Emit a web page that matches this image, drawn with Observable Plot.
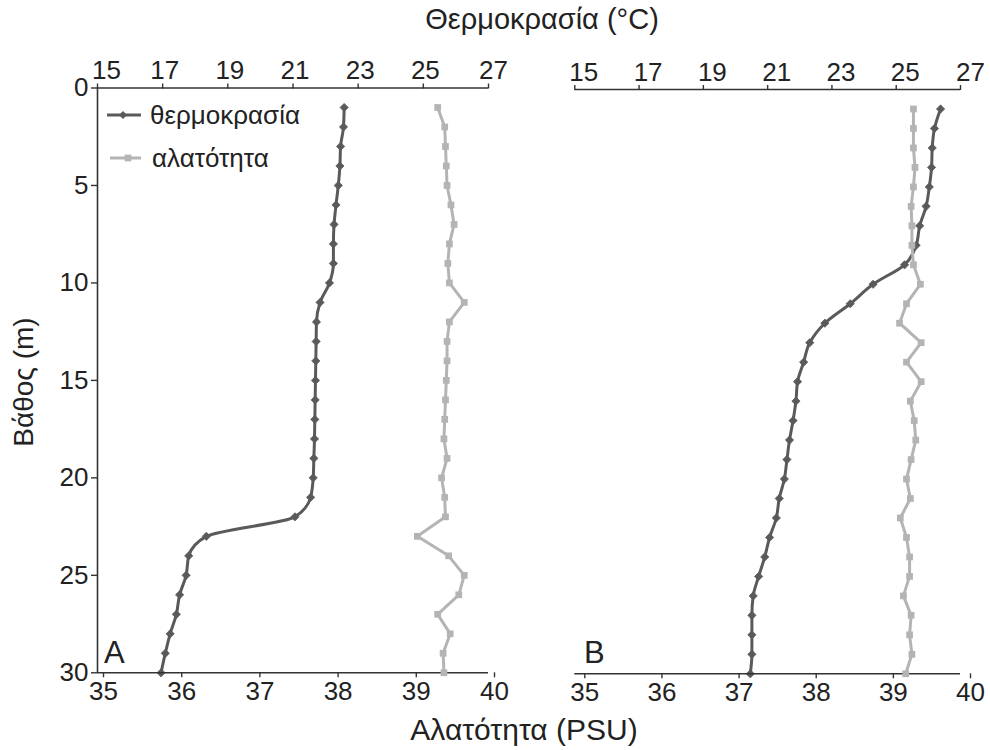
<!DOCTYPE html>
<html>
<head>
<meta charset="utf-8">
<script src="https://cdn.jsdelivr.net/npm/d3@7"></script>
<script src="https://cdn.jsdelivr.net/npm/@observablehq/plot@0.6"></script>
<style>
  html, body { margin: 0; padding: 0; background: #fff; }
  #chart { position: relative; width: 990px; height: 750px; font-family: "Liberation Sans", Arial, sans-serif; color: #222; }
  #chart > svg, #chart > .layer { position: absolute; left: 0; top: 0; }
  .lbl { position: absolute; white-space: nowrap; font-family: "Liberation Sans", Arial, sans-serif; color: #222; }
</style>
</head>
<body>
<div id="chart"></div>
<script>
// ---- data ----
const depth = [1,2,3,4,5,6,7,8,9,10,11,12,13,14,15,16,17,18,19,20,21,22,23,24,25,26,27,28,29,30];
const tempA = [22.57,22.55,22.46,22.44,22.39,22.32,22.26,22.24,22.24,22.12,21.83,21.72,21.71,21.70,21.69,21.68,21.67,21.66,21.64,21.62,21.54,21.06,18.34,17.80,17.72,17.52,17.42,17.23,17.08,16.95];
const salA  = [39.35,39.44,39.45,39.46,39.47,39.52,39.56,39.50,39.48,39.50,39.69,39.50,39.47,39.47,39.46,39.45,39.44,39.43,39.47,39.40,39.44,39.45,39.09,39.49,39.69,39.62,39.35,39.51,39.42,39.43];
const tempB = [26.38,26.19,26.12,26.10,26.03,25.93,25.73,25.62,25.26,24.28,23.57,22.78,22.31,22.12,21.93,21.88,21.79,21.68,21.60,21.52,21.36,21.27,21.06,20.91,20.72,20.55,20.51,20.51,20.51,20.46];
const salB  = [39.39,39.39,39.39,39.41,39.39,39.36,39.37,39.37,39.39,39.48,39.30,39.21,39.49,39.30,39.49,39.35,39.40,39.42,39.36,39.30,39.35,39.22,39.30,39.34,39.34,39.26,39.36,39.34,39.37,39.29];
const tempTicks = [15,17,19,21,23,25,27];
const salTicks = [35,36,37,38,39,40];
const depthTicks = [0,5,10,15,20,25,30];
const tempDomain = [15,27];
const salDomain = [35,40];
const depthDomain = [0,30];
const labels = {title: "Θερμοκρασία (°C)", xLabel: "Αλατότητα (PSU)", yLabel: "Βάθος (m)", temp: "θερμοκρασία", sal: "αλατότητα", panelA: "A", panelB: "B"};

const TEMP_COLOR = "#5a5a5a";
const SAL_COLOR = "#b4b4b4";
const AXIS_COLOR = "#333";
const FONT = "Liberation Sans, Arial, sans-serif";

const rowsA = depth.map((d,i) => ({depth: d, temp: tempA[i], sal: salA[i]}));
const rowsB = depth.map((d,i) => ({depth: d, temp: tempB[i], sal: salB[i]}));

const W = 990, H = 750;
const chart = document.getElementById("chart");

function panel(rows, m, opts) {
  const common = {
    width: W, height: H,
    marginLeft: m.left, marginRight: W - m.right, marginTop: m.top, marginBottom: H - m.bottom,
    style: {background: "transparent", fontFamily: FONT, color: "#222", overflow: "visible"},
    y: {domain: depthDomain, reverse: true, axis: null, label: null}
  };
  const tMarks = [
    Plot.ruleY([0], {stroke: AXIS_COLOR, strokeWidth: 1.6}),
    Plot.axisX(tempTicks, {anchor: "top", label: null, tickSize: 5, tickFormat: () => "", stroke: AXIS_COLOR, strokeWidth: 1.4}),
    Plot.axisX(tempTicks.slice(1, -1), {anchor: "top", label: null, tickSize: 0, tickPadding: opts.topPad, fontSize: 26, dx: opts.topDx, fill: "#222"}),
    Plot.axisX([tempTicks[0]], {anchor: "top", label: null, tickSize: 0, tickPadding: opts.topPad, fontSize: 26, dx: opts.topDxFirst, fill: "#222"}),
    Plot.axisX([tempTicks[tempTicks.length - 1]], {anchor: "top", label: null, tickSize: 0, tickPadding: opts.topPad, fontSize: 26, dx: opts.topDxLast, fill: "#222"}),
    Plot.line(rows, {x: "temp", y: "depth", stroke: TEMP_COLOR, strokeWidth: 3, curve: "monotone-y"}),
    Plot.dot(rows, {x: "temp", y: "depth", symbol: "diamond2", r: 3.7, fill: TEMP_COLOR, stroke: TEMP_COLOR, strokeWidth: 0.8})
  ];
  if (opts.yAxis) {
    tMarks.unshift(
      Plot.ruleX([tempDomain[0]], {stroke: AXIS_COLOR, strokeWidth: 1.6}),
      Plot.axisY(depthTicks, {anchor: "left", label: null, tickSize: 6, tickPadding: 3, fontSize: 26, stroke: AXIS_COLOR, strokeWidth: 1.4, fill: "#222"})
    );
  }
  const tPlot = Plot.plot({...common, x: {domain: tempDomain, axis: null, label: null}, marks: tMarks});
  const sPlot = Plot.plot({...common, x: {domain: salDomain, axis: null, label: null}, marks: [
    Plot.ruleY([30], {stroke: AXIS_COLOR, strokeWidth: 1.6}),
    Plot.axisX(salTicks, {anchor: "bottom", label: null, tickSize: 5, tickPadding: opts.botPad, fontSize: 26, dx: opts.botDx, stroke: AXIS_COLOR, strokeWidth: 1.4, fill: "#222"}),
    Plot.line(rows, {x: "sal", y: "depth", stroke: SAL_COLOR, strokeWidth: 3}),
    Plot.dot(rows, {x: "sal", y: "depth", symbol: "square", r: 3.8, fill: SAL_COLOR})
  ]});
  chart.appendChild(tPlot);
  chart.appendChild(sPlot);
}

panel(rowsA, {left: 97, right: 488, top: 87.5, bottom: 672.3},
  {yAxis: true, topPad: 9, topDx: 2, topDxFirst: 9, topDxLast: 5, botPad: 4, botDx: 6});
panel(rowsB, {left: 574.3, right: 960, top: 89, bottom: 673.3},
  {yAxis: false, topPad: 9, topDx: 9, topDxFirst: 9, topDxLast: 10, botPad: 4, botDx: 10});

function addLabel(text, css) {
  const d = document.createElement("div");
  d.className = "lbl";
  d.textContent = text;
  Object.assign(d.style, css);
  chart.appendChild(d);
  return d;
}
addLabel(labels.title, {left: "542px", top: "3px", fontSize: "29px", transform: "translateX(-50%)"});
addLabel(labels.xLabel, {left: "524px", top: "713px", fontSize: "30px", transform: "translateX(-50%)"});
addLabel(labels.yLabel, {left: "24px", top: "382px", fontSize: "28px", transform: "translate(-50%,-50%) rotate(-90deg)"});
addLabel(labels.panelA, {left: "104px", top: "635px", fontSize: "31px"});
addLabel(labels.panelB, {left: "584px", top: "635px", fontSize: "31px"});

// legend
const leg = document.createElementNS("http://www.w3.org/2000/svg", "svg");
leg.setAttribute("width", 320); leg.setAttribute("height", 80);
leg.setAttribute("class", "layer");
leg.style.left = "100px"; leg.style.top = "95px";
leg.innerHTML = `
  <line x1="7" y1="20" x2="41" y2="20" stroke="${TEMP_COLOR}" stroke-width="3"/>
  <path d="${d3.symbol(d3.symbolDiamond2, 3.7*3.7*Math.PI)()}" transform="translate(23,20)" fill="${TEMP_COLOR}"/>
  <text x="50" y="20" dy="0.35em" font-size="26" font-family="${FONT}" fill="#222">${labels.temp}</text>
  <line x1="10" y1="63" x2="41" y2="63" stroke="${SAL_COLOR}" stroke-width="3"/>
  <path d="${d3.symbol(d3.symbolSquare, 3.8*3.8*Math.PI)()}" transform="translate(28,63)" fill="${SAL_COLOR}"/>
  <text x="52" y="63" dy="0.35em" font-size="26" font-family="${FONT}" fill="#222">${labels.sal}</text>`;
chart.appendChild(leg);
</script>
</body>
</html>
